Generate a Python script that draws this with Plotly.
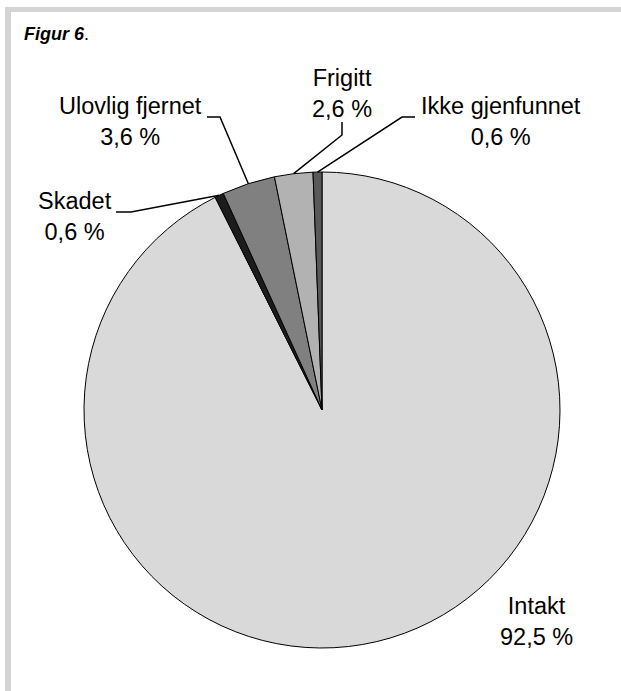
import math
import plotly.graph_objects as go

# ---- data ----
categories = ["Intakt", "Skadet", "Ulovlig fjernet", "Frigitt", "Ikke gjenfunnet"]
values = [92.5, 0.6, 3.6, 2.6, 0.6]
value_labels = ["92,5 %", "0,6 %", "3,6 %", "2,6 %", "0,6 %"]
colors = ["#d9d9d9", "#1c1c1c", "#808080", "#b2b2b2", "#595959"]

W, H = 621, 691
CX, CY, R = 322, 410, 238


def px(x):
    return x / W


def py(y):
    return 1 - y / H


fig = go.Figure()
fig.add_trace(go.Pie(
    labels=categories,
    values=values,
    sort=False,
    direction="clockwise",
    rotation=0,
    textinfo="none",
    hoverinfo="label+percent",
    marker=dict(colors=colors, line=dict(color="#000000", width=1)),
    domain=dict(x=[px(CX - R), px(CX + R)], y=[py(CY + R), py(CY - R)]),
    showlegend=False,
))

# edge anchor points (slice mid-angles) computed from the data
total = sum(values)
anchors = []
cum = 0
for v in values:
    th = 2 * math.pi * (cum + v / 2) / total
    anchors.append((CX + R * math.sin(th), CY - R * math.cos(th)))
    cum += v

# label layout: (center x, middle y) in pixels and leader elbow points
label_pos = {
    "Intakt": (536, 621),
    "Skadet": (75, 216),
    "Ulovlig fjernet": (130, 122),
    "Frigitt": (342, 93),
    "Ikke gjenfunnet": (501, 122),
}
leader = {
    "Skadet": [(116, 212), (131, 212)],
    "Ulovlig fjernet": [(207, 117), (220, 117)],
    "Frigitt": [(342, 122), (342, 135)],
    "Ikke gjenfunnet": [(415, 117), (402, 117)],
}

FONT = "Liberation Sans, Arial, sans-serif"
annotations = []
shapes = []
for i, cat in enumerate(categories):
    lx, ly = label_pos[cat]
    annotations.append(dict(
        x=px(lx), y=py(ly), xref="paper", yref="paper",
        text=f"{cat}<br>{value_labels[i]}", showarrow=False,
        xanchor="center", yanchor="middle", align="center",
        font=dict(family=FONT, size=23.5, color="#000000"),
    ))
    if cat in leader:
        pts = leader[cat] + [anchors[i]]
        path = "M " + " L ".join(f"{px(x):.5f},{py(y):.5f}" for x, y in pts)
        shapes.append(dict(type="path", path=path, xref="paper", yref="paper",
                           line=dict(color="#000000", width=1.5)))

# frame (grey bars top and left)
shapes.append(dict(type="rect", xref="paper", yref="paper",
                   x0=px(5), x1=px(621), y0=py(12), y1=py(7),
                   fillcolor="#d4d4d4", line=dict(width=0)))
shapes.append(dict(type="rect", xref="paper", yref="paper",
                   x0=px(5), x1=px(11), y0=py(691), y1=py(7),
                   fillcolor="#d4d4d4", line=dict(width=0)))

annotations.append(dict(
    x=px(22), y=py(46), xref="paper", yref="paper",
    text="<b><i>Figur 6</i></b>.", showarrow=False,
    xanchor="left", yanchor="bottom",
    font=dict(family=FONT, size=18, color="#000000"),
))

fig.update_layout(
    width=W, height=H,
    margin=dict(l=0, r=0, t=0, b=0),
    paper_bgcolor="#ffffff",
    plot_bgcolor="#ffffff",
    annotations=annotations,
    shapes=shapes,
)

fig.write_html(
    "out.html",
    config={"displayModeBar": False},
    post_script=(
        "document.documentElement.style.margin='0';"
        "document.documentElement.style.overflow='hidden';"
        "document.body.style.margin='0';"
        "document.body.style.overflow='hidden';"
    ),
)
